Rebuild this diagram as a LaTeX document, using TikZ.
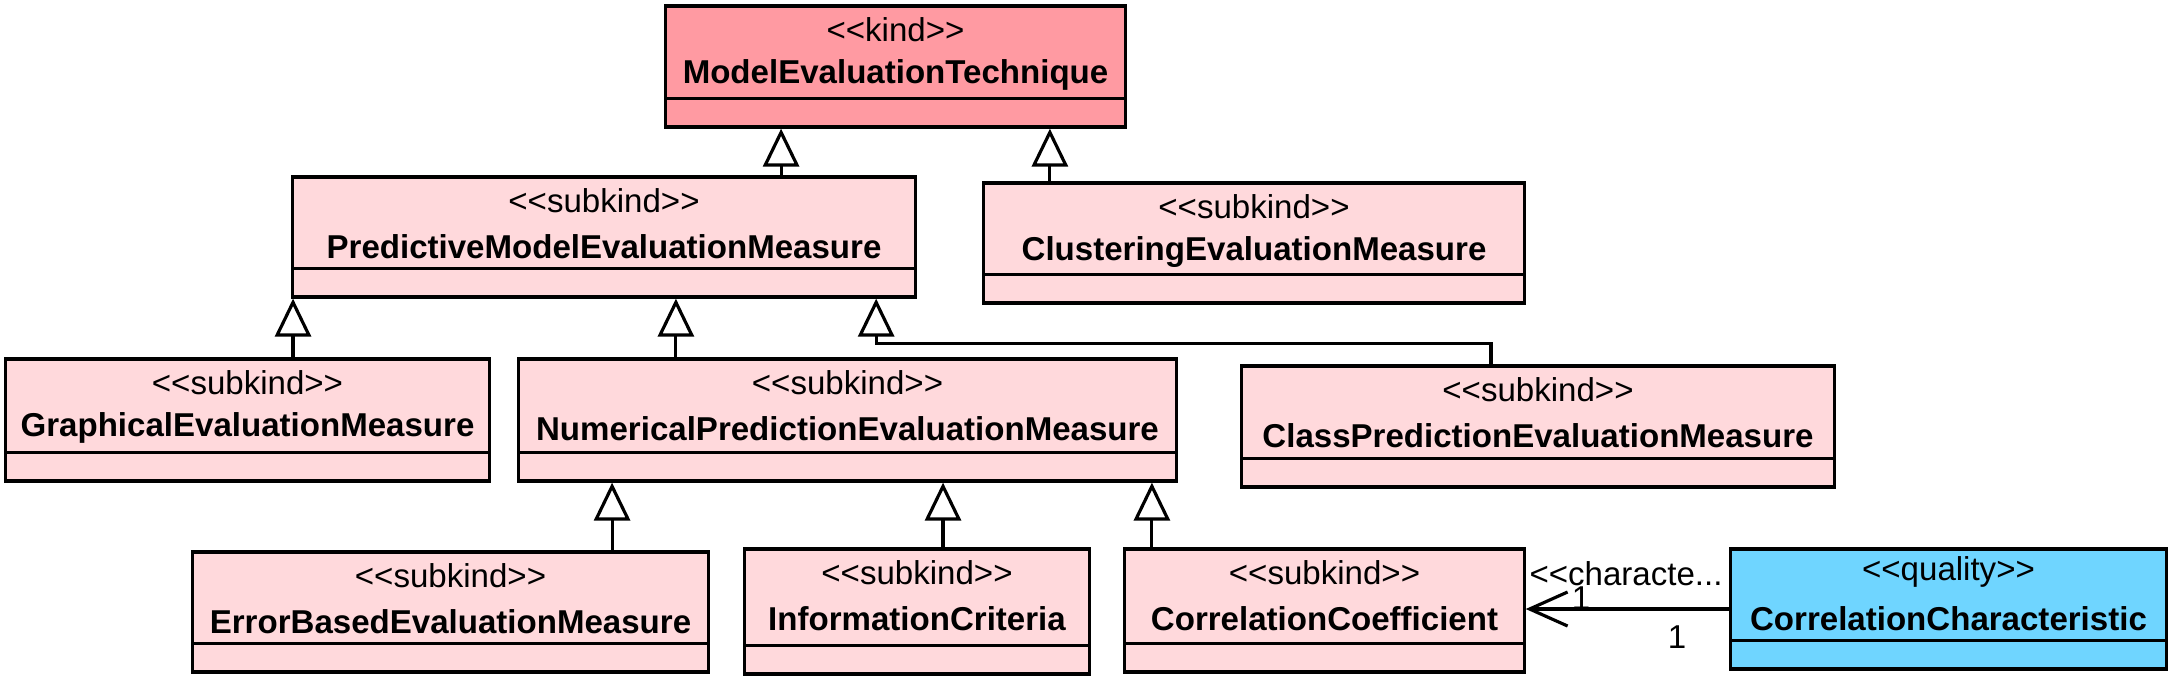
\documentclass[tikz,border=0pt]{standalone}
\usepackage{fontspec}
\newfontfamily\umlfont{Liberation Sans}
\usetikzlibrary{arrows.meta}
\definecolor{kindred}{HTML}{FF9AA2}
\definecolor{subkindpink}{HTML}{FFD9DC}
\definecolor{qualityblue}{HTML}{6FD5FF}

\begin{document}
\begin{tikzpicture}[x=0.01cm, y=-0.01cm, line width=0.9pt,
    every node/.style={font=\umlfont\fontsize{9.4}{11}\selectfont},
    umlclass/.style={draw, rectangle, inner sep=0pt},
    stereo/.style={inner sep=0pt},
    classname/.style={inner sep=0pt, font=\umlfont\bfseries\fontsize{9.4}{11}\selectfont},
    assoclabel/.style={inner sep=0pt},
    gen/.style={-{Triangle[open, length=0.38cm, width=0.36cm]}},
    assoc/.style={-{Straight Barb[length=0.38cm, width=0.34cm]}}]
    \useasboundingbox (0,0) rectangle (2178,687);

    % classes: name / centre / size / fill / stereotype / title
    \foreach \id/\cx/\cy/\w/\h/\col/\st/\nm in {
        met/895.5/66.5/4.59/1.21/kindred/kind/ModelEvaluationTechnique,
        pmem/604/237/6.22/1.20/subkindpink/subkind/PredictiveModelEvaluationMeasure,
        cem/1254/243/5.40/1.20/subkindpink/subkind/ClusteringEvaluationMeasure,
        gem/247.5/420/4.83/1.22/subkindpink/subkind/GraphicalEvaluationMeasure,
        npem/847.5/420/6.57/1.22/subkindpink/subkind/NumericalPredictionEvaluationMeasure,
        cpem/1538/426.5/5.92/1.21/subkindpink/subkind/ClassPredictionEvaluationMeasure,
        ebem/450.5/612/5.15/1.20/subkindpink/subkind/ErrorBasedEvaluationMeasure,
        ic/917/611.5/3.44/1.25/subkindpink/subkind/InformationCriteria,
        cc/1324.5/610.5/3.99/1.23/subkindpink/subkind/CorrelationCoefficient,
        cchar/1948.5/609/4.35/1.20/qualityblue/quality/CorrelationCharacteristic}
    {
        \node[umlclass, fill=\col, minimum width=\w cm, minimum height=\h cm] (\id) at (\cx,\cy) {};
        \node[stereo] (\id-st) at ([yshift=-0.25cm]\id.north) {<<\st>>};
        \node[classname] (\id-nm) at ([yshift=-0.71cm]\id.north) {\nm};
        \draw ([yshift=0.30cm]\id.south west) -- ([yshift=0.30cm]\id.south east);
    }

    % generalisations
    \draw[gen] ([xshift=1.77cm]pmem.north) -- ([xshift=1.77cm]pmem.north |- met.south);
    \draw[gen] ([xshift=-2.04cm]cem.north) -- ([xshift=-2.04cm]cem.north |- met.south);
    \draw[gen] ([xshift=0.455cm]gem.north) -- ([xshift=0.455cm]gem.north |- pmem.south);
    \draw[gen] ([xshift=-1.715cm]npem.north) -- ([xshift=-1.715cm]npem.north |- pmem.south);
    \draw[gen] ([xshift=-0.47cm]cpem.north) -- ++(0,-21) -| ([xshift=2.72cm]pmem.south);
    \draw[gen] ([xshift=1.615cm]ebem.north) -- ([xshift=1.615cm]ebem.north |- npem.south);
    \draw[gen] ([xshift=0.26cm]ic.north) -- ([xshift=0.26cm]ic.north |- npem.south);
    \draw[gen] ([xshift=-1.725cm]cc.north) -- ([xshift=-1.725cm]cc.north |- npem.south);

    % characterization
    \draw[assoc] (cchar.west) -- (cchar.west -| cc.east);
    \node[assoclabel] (char-lbl) at (1626,574) {<<characte...};
    \node[assoclabel] (char-m1) at (1581,598) {1};
    \node[assoclabel] (char-m2) at (1677,637) {1};
\end{tikzpicture}
\end{document}
